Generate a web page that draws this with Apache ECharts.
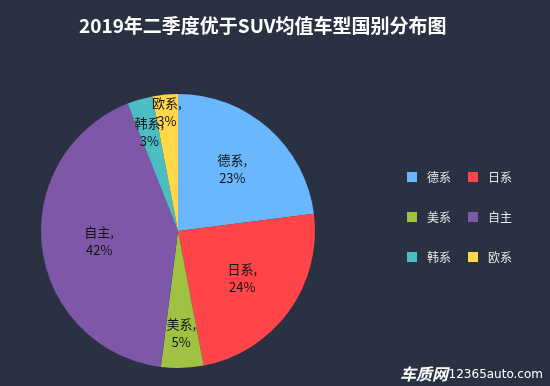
<!DOCTYPE html>
<html>
<head>
<meta charset="utf-8">
<script src="https://cdn.jsdelivr.net/npm/echarts@6/dist/echarts.min.js"></script>
<style>
html,body{margin:0;padding:0;background:#2a3142;}
#main{width:550px;height:386px;}
</style>
</head>
<body>
<div id="main"></div>
<script>
var titleText = '2019年二季度优于SUV均值车型国别分布图';
var categories = ['德系', '日系', '美系', '自主', '韩系', '欧系'];
var values = [23, 24, 5, 42, 3, 3];
var colors = ['#6bb7fe', '#ff4549', '#9fc242', '#7e57a8', '#4cbdc2', '#ffd84a'];
var legendRows = [['德系', '日系'], ['美系', '自主'], ['韩系', '欧系']];
// styling only: radial placement of labels as fraction of radius
var labelRatio = [0.60, 0.58, 0.745, 0.58, 0.75, 0.87];

var cx = 178, cy = 231, R = 137;
var FONT = '"Noto Sans CJK SC", "Microsoft YaHei", sans-serif';

var chart = echarts.init(document.getElementById('main'), null, {renderer: 'canvas'});

var legends = legendRows.map(function (row, i) {
  return {
    data: row,
    orient: 'horizontal',
    left: 402,
    top: 166 + i * 40,
    icon: 'rect',
    itemWidth: 10,
    itemHeight: 10,
    itemGap: 17,
    itemStyle: {borderWidth: 0},
    textStyle: {color: '#e8e8e8', fontSize: 12, fontFamily: FONT, padding: [0, 0, 0, 5]},
    selectedMode: false
  };
});

chart.setOption({
  backgroundColor: '#2a3142',
  title: {
    text: titleText,
    left: 74,
    top: 11,
    textStyle: {color: '#ffffff', fontSize: 19, fontWeight: 'bold', fontFamily: FONT}
  },
  legend: legends,
  graphic: [
    {type: 'text', right: 7, bottom: 5, style: {text: '12365auto.com', fill: '#ffffff', font: '12px "DejaVu Sans", sans-serif'}},
    {type: 'text', right: 102, bottom: 4, style: {text: '车质网', fill: '#ffffff', font: 'bold italic 16px "Noto Sans CJK SC", sans-serif'}}
  ],
  series: [{
    type: 'pie',
    center: [cx, cy],
    radius: [0, R],
    startAngle: 90,
    clockwise: true,
    avoidLabelOverlap: false,
    silent: true,
    data: categories.map(function (c, i) {
      return {name: c, value: values[i], itemStyle: {color: colors[i]}};
    }),
    label: {
      show: true,
      position: 'inside',
      formatter: '{b},\n{d}%',
      color: '#111111',
      fontSize: 13,
      lineHeight: 18,
      fontFamily: FONT
    },
    labelLine: {show: false},
    labelLayout: function (p) {
      var r = p.labelRect;
      var lx = r.x + r.width / 2, ly = r.y + r.height / 2;
      var vx = lx - cx, vy = ly - cy;
      var d = Math.sqrt(vx * vx + vy * vy) || 1;
      var target = labelRatio[p.dataIndex] * R;
      return {dx: vx / d * (target - d), dy: vy / d * (target - d)};
    }
  }]
});
</script>
</body>
</html>
